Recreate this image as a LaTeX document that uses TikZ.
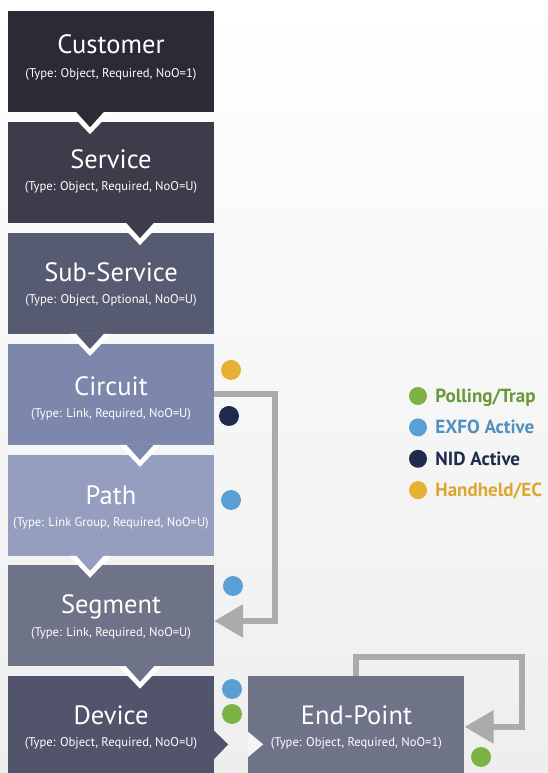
\documentclass[tikz,border=0pt]{standalone}
\usepackage{fontspec}
\setmainfont{PT Sans}
\usetikzlibrary{positioning,calc,arrows.meta}

\definecolor{custcol}{HTML}{2B2B36}
\definecolor{servcol}{HTML}{3C3C4A}
\definecolor{subcol}{HTML}{575B72}
\definecolor{circcol}{HTML}{7C87AB}
\definecolor{pathcol}{HTML}{969EC0}
\definecolor{segcol}{HTML}{6F7387}
\definecolor{devcol}{HTML}{51546B}
\definecolor{endcol}{HTML}{6F7387}
\definecolor{conngray}{HTML}{ABABAB}
\definecolor{bggray}{HTML}{EEEEEE}
\definecolor{pgreen}{HTML}{7CB342}
\definecolor{pblue}{HTML}{5BA0D5}
\definecolor{pnavy}{HTML}{1F2B4D}
\definecolor{porange}{HTML}{E6B032}

\begin{document}
\begin{tikzpicture}[x=1pt,y=1pt,
  box/.style={rectangle,minimum width=206pt,minimum height=101pt,inner sep=0pt},
  title/.style={anchor=base,text=white,inner sep=0pt,font=\fontsize{26.5}{30}\selectfont},
  sub/.style={anchor=base,text=white,inner sep=0pt,font=\fontsize{12.6}{15}\selectfont},
  conn/.style={draw=conngray,line width=6pt,-{Triangle[length=29pt,width=32pt]}},
  ldot/.style={circle,minimum size=18pt,inner sep=0pt},
  legend/.style={anchor=base west,inner sep=0pt,font=\fontsize{19}{21}\selectfont\bfseries}]
\useasboundingbox (0,0) rectangle (548,773);
\shade[top color=white,bottom color=bggray] (0,0) rectangle (548,773);
%\draw[step=10pt,very thin,color=gray] (0,0) grid (548,773);
\node[box,fill=custcol] (cust) at (111,711.5) {};
\node[box,fill=servcol,below=9.5pt of cust] (serv) {};
\node[box,fill=subcol,below=9.5pt of serv] (subs) {};
\node[box,fill=circcol,below=9.5pt of subs] (circ) {};
\node[box,fill=pathcol,below=9.5pt of circ] (path) {};
\node[box,fill=segcol,below=9.5pt of path] (seg) {};
\node[box,fill=devcol,below=9.5pt of seg] (dev) {};
\node[box,fill=endcol,minimum width=216pt,right=34pt of dev] (endp) {};
% chevrons
\fill[white] ($(cust.south)+(-42,0)$) -- ($(cust.south)+(-21,-22)$) -- (cust.south) -- cycle;
\fill[custcol] ($(cust.south)+(-35,0.5)$) -- ($(cust.south)+(-21,-15)$) -- ($(cust.south)+(-7,0.5)$) -- cycle;
\fill[white] ($(serv.south)+(8,0)$) -- ($(serv.south)+(29,-22)$) -- ($(serv.south)+(50,0)$) -- cycle;
\fill[servcol] ($(serv.south)+(15,0.5)$) -- ($(serv.south)+(29,-15)$) -- ($(serv.south)+(43,0.5)$) -- cycle;
\fill[white] ($(subs.south)+(-42,0)$) -- ($(subs.south)+(-21,-22)$) -- (subs.south) -- cycle;
\fill[subcol] ($(subs.south)+(-35,0.5)$) -- ($(subs.south)+(-21,-15)$) -- ($(subs.south)+(-7,0.5)$) -- cycle;
\fill[white] ($(circ.south)+(8,0)$) -- ($(circ.south)+(29,-22)$) -- ($(circ.south)+(50,0)$) -- cycle;
\fill[circcol] ($(circ.south)+(15,0.5)$) -- ($(circ.south)+(29,-15)$) -- ($(circ.south)+(43,0.5)$) -- cycle;
\fill[white] ($(path.south)+(-42,0)$) -- ($(path.south)+(-21,-22)$) -- (path.south) -- cycle;
\fill[pathcol] ($(path.south)+(-35,0.5)$) -- ($(path.south)+(-21,-15)$) -- ($(path.south)+(-7,0.5)$) -- cycle;
\fill[white] ($(seg.south)+(8,0)$) -- ($(seg.south)+(29,-22)$) -- ($(seg.south)+(50,0)$) -- cycle;
\fill[segcol] ($(seg.south)+(15,0.5)$) -- ($(seg.south)+(29,-15)$) -- ($(seg.south)+(43,0.5)$) -- cycle;
\fill[devcol] ($(dev.east)+(-0.5,-3.5)$) -- ($(dev.east)+(14,-17.5)$) -- ($(dev.east)+(-0.5,-32.5)$) -- cycle;
\fill[bggray!60!white] ($(endp.west)+(-0.5,-4.5)$) -- ($(endp.west)+(15,-17.5)$) -- ($(endp.west)+(-0.5,-30.5)$) -- cycle;
% texts
\node[title] (custT) at ([yshift=7.5pt]cust.center) {Customer};
\node[sub] (custS) at ([yshift=-16.5pt]cust.center) {(Type: Object, Required, NoO=1)};
\node[title] (servT) at ([yshift=4pt]serv.center) {Service};
\node[sub] (servS) at ([yshift=-18pt]serv.center) {(Type: Object, Required, NoO=U)};
\node[title] (subsT) at ([yshift=1.5pt]subs.center) {Sub-Service};
\node[sub] (subsS) at ([yshift=-20.5pt]subs.center) {(Type: Object, Optional, NoO=U)};
\node[title] (circT) at ([yshift=-1pt]circ.center) {Circuit};
\node[sub] (circS) at ([yshift=-23pt]circ.center) {(Type: Link, Required, NoO=U)};
\node[title] (pathT) at ([yshift=0.5pt]path.center) {Path};
\node[sub] (pathS) at ([yshift=-21.5pt]path.center) {(Type: Link Group, Required, NoO=U)};
\node[title] (segT) at ([yshift=2pt]seg.center) {Segment};
\node[sub] (segS) at ([yshift=-21pt]seg.center) {(Type: Link, Required, NoO=U)};
\node[title] (devT) at ([yshift=2.5pt]dev.center) {Device};
\node[sub] (devS) at ([yshift=-19.5pt]dev.center) {(Type: Object, Required, NoO=U)};
\node[title] (endpT) at ([yshift=2.5pt]endp.center) {End-Point};
\node[sub] (endpS) at ([yshift=-19.5pt]endp.center) {(Type: Object, Required, NoO=1)};
% connectors
\draw[conn] (circ.east) -- ++(61,0) |- ([yshift=-5pt]seg.east);
\draw[conn] (endp.north) |- ($(endp.east)+(57,70)$) |- (endp.east);
% status dots
\fill[porange] (231,403) circle (10pt);
\fill[pnavy] (229,357) circle (10pt);
\fill[pblue] (231,273) circle (10pt);
\fill[pblue] (233,187) circle (10pt);
\fill[pblue] (232,84) circle (10pt);
\fill[pgreen] (232,59) circle (10pt);
\fill[pgreen] (481,16) circle (10pt);
% legend
\node[ldot,fill=pgreen] (dpoll) at (418,377) {};
\node[ldot,fill=pblue,below=13pt of dpoll] (dexfo) {};
\node[ldot,fill=pnavy,below=13pt of dexfo] (dnid) {};
\node[ldot,fill=porange,below=13pt of dnid] (dhand) {};
\node[legend,text=pgreen!85!black] (tpoll) at ([xshift=8pt,yshift=-6.5pt]dpoll.east) {Polling/Trap};
\node[legend,text=pblue!90!black] (texfo) at ([xshift=8pt,yshift=-6.5pt]dexfo.east) {EXFO Active};
\node[legend,text=pnavy] (tnid) at ([xshift=8pt,yshift=-6.5pt]dnid.east) {NID Active};
\node[legend,text=porange!95!black] (thand) at ([xshift=8pt,yshift=-6.5pt]dhand.east) {Handheld/EC};
\end{tikzpicture}
\end{document}
